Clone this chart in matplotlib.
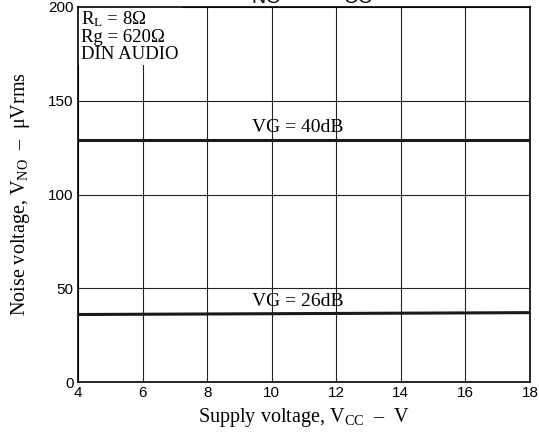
import numpy as np
import matplotlib.pyplot as plt

plt.rcParams['mathtext.fontset'] = 'custom'
plt.rcParams['mathtext.rm'] = 'Liberation Serif'
plt.rcParams['mathtext.it'] = 'Liberation Serif:italic'
plt.rcParams['mathtext.sf'] = 'Liberation Sans'
plt.rcParams['font.family'] = 'Liberation Serif'

# supply voltage (V) and noise voltage (uVrms) for each gain
vcc = [4, 18]
vno_40db = [129, 129]
vno_26db = [36, 37]
xticks = [4, 6, 8, 10, 12, 14, 16, 18]
yticks = [0, 50, 100, 150, 200]

fig = plt.figure(figsize=(5.39, 4.32), dpi=100)
ax = fig.add_axes([0.1447, 0.1157, 0.8386, 0.8681])

ax.plot(vcc, vno_40db, color='#1a1a1a', linewidth=2.2, zorder=3)
ax.plot(vcc, vno_26db, color='#1a1a1a', linewidth=2.2, zorder=3)

ax.set_xlim(4, 18)
ax.set_ylim(0, 200)
ax.set_xticks(xticks)
ax.set_yticks(yticks)
ax.grid(True, color='#222222', linewidth=0.8)
ax.tick_params(length=0, pad=3, labelsize=11)
for lab in ax.get_xticklabels() + ax.get_yticklabels():
    lab.set_family('Liberation Sans')
for s in ax.spines.values():
    s.set_linewidth(1.2)

ax.text(10.8, 131, 'VG = 40dB', ha='center', va='bottom', fontsize=14, zorder=4)
ax.text(10.8, 38.5, 'VG = 26dB', ha='center', va='bottom', fontsize=14, zorder=4)

ax.text(4.1, 199, 'R$_{\\mathrm{L}}$ = 8\u03a9\nRg = 620\u03a9\nDIN AUDIO',
        ha='left', va='top', fontsize=13.5, linespacing=1.0, zorder=2,
        bbox=dict(facecolor='white', edgecolor='none', pad=2))

ax.set_xlabel('Supply voltage, V$_{\\mathrm{CC}}$  \u2013  V', fontsize=14.5, labelpad=4)
ax.set_ylabel('Noise voltage, V$_{\\mathrm{NO}}$  \u2013  \u03bcVrms', fontsize=14.5, labelpad=12)

fig.text(0.562, 0.999, 'V$_{\\mathsf{NO}}$ \u2014 V$_{\\mathsf{CC}}$', ha='center', va='baseline',
         fontsize=20, family='Liberation Sans')

fig.savefig('out.png', dpi=100)
